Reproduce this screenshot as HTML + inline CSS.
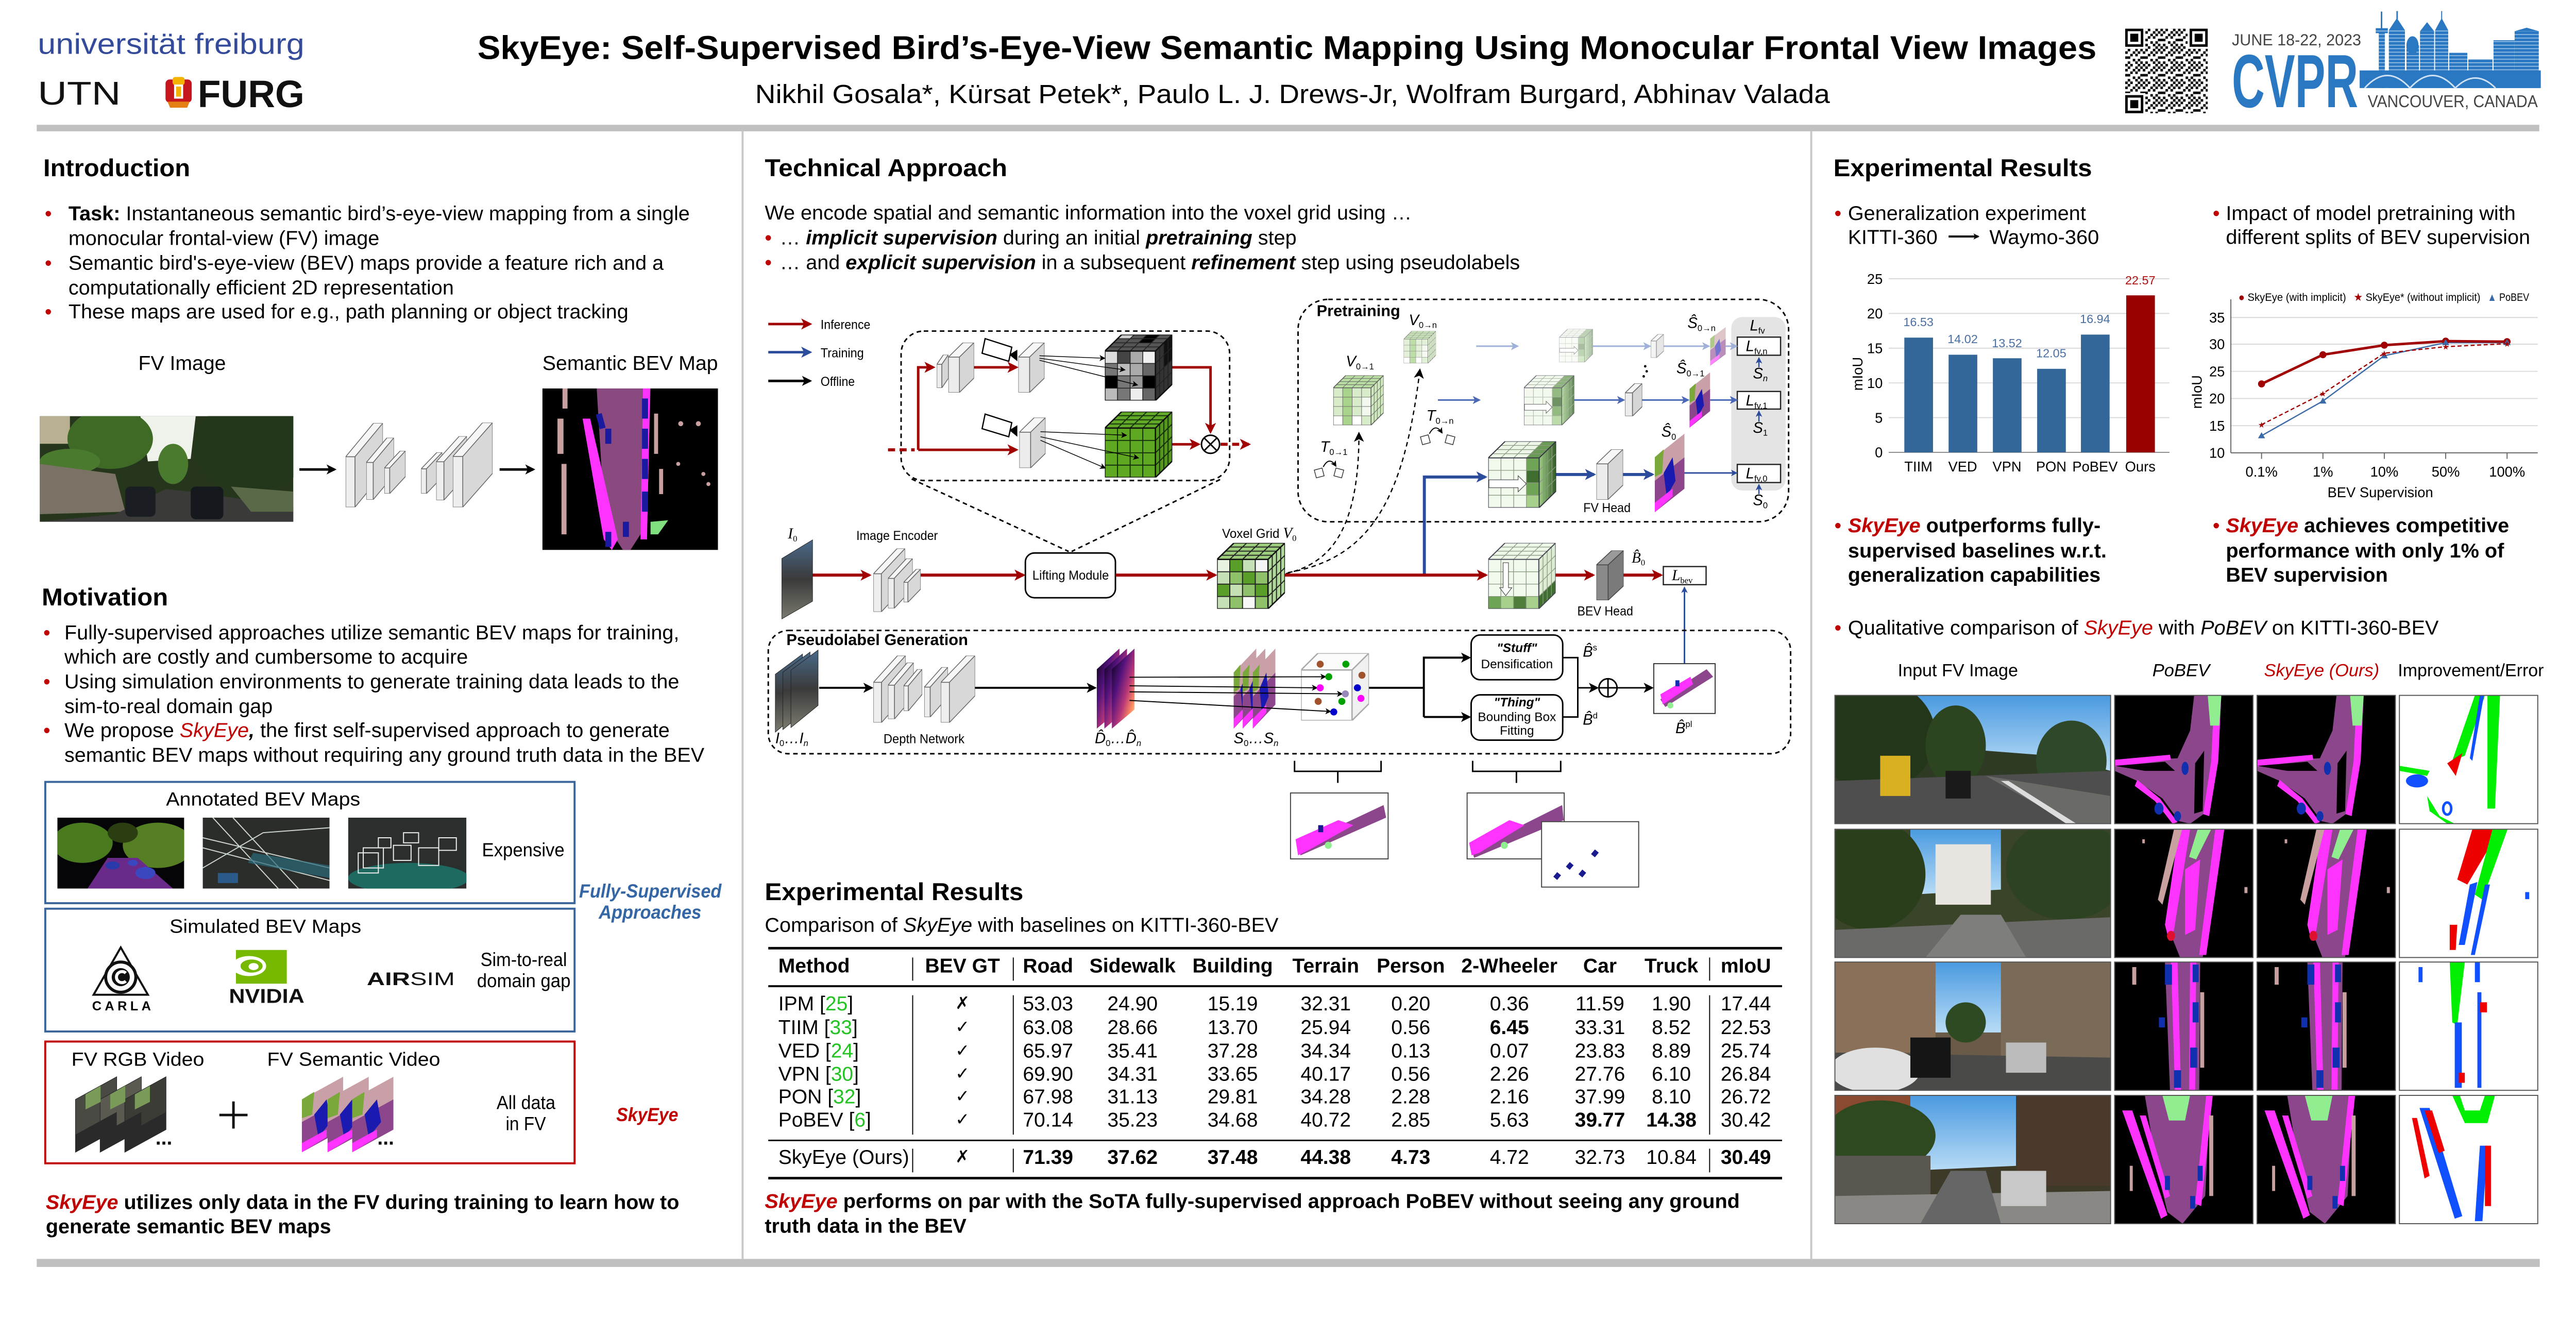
<!DOCTYPE html>
<html><head><meta charset="utf-8"><title>SkyEye poster</title>
<style>
html,body{margin:0;padding:0;background:#fff;overflow:hidden;}
svg.root{display:block;width:100vw;height:50vw;}
text{font-family:"Liberation Sans",Arial,sans-serif;}
.s{font-family:"Liberation Serif","Times New Roman",serif;}
.m{font-family:"Liberation Serif","Times New Roman",serif;font-style:italic;}
.ck{font-family:"DejaVu Sans",sans-serif;}
</style></head><body>
<svg class="root" width="5120" height="2560" viewBox="0 0 5120 2560" preserveAspectRatio="none" xmlns="http://www.w3.org/2000/svg" xmlns:xlink="http://www.w3.org/1999/xlink">
<defs>
<marker id="mR" viewBox="0 0 10 10" refX="8" refY="5" markerWidth="22" markerHeight="22" markerUnits="userSpaceOnUse" orient="auto"><path d="M0,0 L10,5 L0,10 L2.5,5 z" fill="#a00000"/></marker>
<marker id="mB" viewBox="0 0 10 10" refX="8" refY="5" markerWidth="22" markerHeight="22" markerUnits="userSpaceOnUse" orient="auto"><path d="M0,0 L10,5 L0,10 L2.5,5 z" fill="#2b4c9b"/></marker>
<marker id="mBm" viewBox="0 0 10 10" refX="8" refY="5" markerWidth="16" markerHeight="16" markerUnits="userSpaceOnUse" orient="auto"><path d="M0,0 L10,5 L0,10 L2.5,5 z" fill="#4a68b8"/></marker>
<marker id="mBl" viewBox="0 0 10 10" refX="8" refY="5" markerWidth="16" markerHeight="16" markerUnits="userSpaceOnUse" orient="auto"><path d="M0,0 L10,5 L0,10 L2.5,5 z" fill="#9fb1d8"/></marker>
<marker id="mK" viewBox="0 0 10 10" refX="8" refY="5" markerWidth="20" markerHeight="20" markerUnits="userSpaceOnUse" orient="auto"><path d="M0,0 L10,5 L0,10 L2.5,5 z" fill="#000"/></marker>
<marker id="mKs" viewBox="0 0 10 10" refX="8" refY="5" markerWidth="12" markerHeight="12" markerUnits="userSpaceOnUse" orient="auto"><path d="M0,0 L10,5 L0,10 L2.5,5 z" fill="#000"/></marker>
<marker id="mBs" viewBox="0 0 10 10" refX="8" refY="5" markerWidth="13" markerHeight="13" markerUnits="userSpaceOnUse" orient="auto"><path d="M0,0 L10,5 L0,10 L2.5,5 z" fill="#2b4c9b"/></marker>

<linearGradient id="magma" x1="0" y1="0" x2="1" y2="1"><stop offset="0" stop-color="#000004"/><stop offset="0.35" stop-color="#51127c"/><stop offset="0.6" stop-color="#b73779"/><stop offset="0.8" stop-color="#fc8961"/><stop offset="1" stop-color="#fcfdbf"/></linearGradient>
<linearGradient id="imgG" x1="0" y1="0" x2="0" y2="1"><stop offset="0" stop-color="#4a6a8a"/><stop offset="0.5" stop-color="#3a3a3a"/><stop offset="1" stop-color="#7a7a70"/></linearGradient>
<linearGradient id="skyG" x1="0" y1="0" x2="0" y2="1"><stop offset="0" stop-color="#4a9ae0"/><stop offset="1" stop-color="#b8dcf6"/></linearGradient>
<linearGradient id="sideG" x1="0" y1="0" x2="1" y2="0"><stop offset="0" stop-color="#9fcf86"/><stop offset="1" stop-color="#2f5a22"/></linearGradient>

<pattern id="qr" patternUnits="userSpaceOnUse" x="4224" y="57" width="35" height="35">
<g fill="#000"><rect x="0" y="0" width="5" height="5"/><rect x="10" y="0" width="5" height="5"/><rect x="25" y="0" width="5" height="5"/><rect x="5" y="5" width="5" height="5"/><rect x="20" y="5" width="5" height="5"/><rect x="30" y="5" width="5" height="5"/><rect x="0" y="10" width="5" height="5"/><rect x="15" y="10" width="5" height="5"/><rect x="25" y="10" width="5" height="5"/><rect x="10" y="15" width="5" height="5"/><rect x="20" y="15" width="5" height="5"/><rect x="0" y="20" width="5" height="5"/><rect x="5" y="20" width="5" height="5"/><rect x="30" y="20" width="5" height="5"/><rect x="15" y="25" width="5" height="5"/><rect x="25" y="25" width="5" height="5"/><rect x="5" y="30" width="5" height="5"/><rect x="20" y="30" width="5" height="5"/><rect x="30" y="30" width="5" height="5"/></g>
</pattern>
<pattern id="win" patternUnits="userSpaceOnUse" width="6" height="7"><rect width="6" height="7" fill="#2a78c2"/><rect y="5" width="6" height="1.3" fill="#bcd7f0"/></pattern>

<symbol id="slabT" viewBox="0 0 100 100" preserveAspectRatio="none">
<g stroke="#666" stroke-width="1.5">
<polygon points="0,40 75,0 100,0 25,40" fill="#f6f6f6" vector-effect="non-scaling-stroke"/>
<polygon points="25,40 100,0 100,60 25,100" fill="#d8d8d8" vector-effect="non-scaling-stroke"/>
<polygon points="0,40 25,40 25,100 0,100" fill="#eeeeee" vector-effect="non-scaling-stroke"/>
</g></symbol>
<symbol id="slabW" viewBox="0 0 100 100" preserveAspectRatio="none">
<g stroke="#666" stroke-width="1.5">
<polygon points="0,29 57,0 100,0 43,29" fill="#f6f6f6" vector-effect="non-scaling-stroke"/>
<polygon points="43,29 100,0 100,71 43,100" fill="#d6d6d6" vector-effect="non-scaling-stroke"/>
<polygon points="0,29 43,29 43,100 0,100" fill="#ececec" vector-effect="non-scaling-stroke"/>
</g></symbol>
<symbol id="slabD" viewBox="0 0 100 100" preserveAspectRatio="none">
<g stroke="#444" stroke-width="1.5">
<polygon points="0,29 57,0 100,0 43,29" fill="#9a9a9a" vector-effect="non-scaling-stroke"/>
<polygon points="43,29 100,0 100,71 43,100" fill="#7a7a7a" vector-effect="non-scaling-stroke"/>
<polygon points="0,29 43,29 43,100 0,100" fill="#8a8a8a" vector-effect="non-scaling-stroke"/>
</g></symbol>

<path id="cgrid" d="M18.75,25V100M37.5,25V100M56.25,25V100M0,43.75H75M0,62.5H75M0,81.25H75M18.75,25L43.75,0M37.5,25L62.5,0M56.25,25L81.25,0M6.25,18.75H81.25M12.5,12.5H87.5M18.75,6.25H93.75M81.25,18.75V93.75M87.5,12.5V87.5M93.75,6.25V81.25M75,43.75L100,18.75M75,62.5L100,37.5M75,81.25L100,56.25"/>
<path id="cout" d="M0,25H75V100H0ZM0,25L25,0H100L75,25M100,0V75L75,100"/>

<symbol id="cubeG" viewBox="0 0 100 100" preserveAspectRatio="none">
<polygon points="0,25 25,0 100,0 75,25" fill="#9ccc7c"/>
<polygon points="75,25 100,0 100,75 75,100" fill="#b0d898"/>
<rect x="0" y="25" width="18.75" height="18.75" fill="#e8f2e0"/><rect x="18.75" y="25" width="18.75" height="18.75" fill="#5a9e2a"/><rect x="37.5" y="25" width="18.75" height="18.75" fill="#c5e0b4"/><rect x="56.25" y="25" width="18.75" height="18.75" fill="#f4f4f4"/>
<rect x="0" y="43.75" width="18.75" height="18.75" fill="#c5e0b4"/><rect x="18.75" y="43.75" width="18.75" height="18.75" fill="#8fc16a"/><rect x="37.5" y="43.75" width="18.75" height="18.75" fill="#5a9e2a"/><rect x="56.25" y="43.75" width="18.75" height="18.75" fill="#8fc16a"/>
<rect x="0" y="62.5" width="18.75" height="18.75" fill="#5a9e2a"/><rect x="18.75" y="62.5" width="18.75" height="18.75" fill="#c5e0b4"/><rect x="37.5" y="62.5" width="18.75" height="18.75" fill="#8fc16a"/><rect x="56.25" y="62.5" width="18.75" height="18.75" fill="#5a9e2a"/>
<rect x="0" y="81.25" width="18.75" height="18.75" fill="#c5e0b4"/><rect x="18.75" y="81.25" width="18.75" height="18.75" fill="#8fc16a"/><rect x="37.5" y="81.25" width="18.75" height="18.75" fill="#f8f8f8"/><rect x="56.25" y="81.25" width="18.75" height="18.75" fill="#8fc16a"/>
<use href="#cgrid" fill="none" stroke="#222" stroke-width="1.5" vector-effect="non-scaling-stroke"/>
<use href="#cout" fill="none" stroke="#111" stroke-width="2" vector-effect="non-scaling-stroke"/>
</symbol>
<symbol id="cubeGL" viewBox="0 0 100 100" preserveAspectRatio="none">
<polygon points="0,25 25,0 100,0 75,25" fill="#b9dca2"/>
<polygon points="75,25 100,0 100,75 75,100" fill="#cfe6bf"/>
<rect x="0" y="25" width="75" height="75" fill="#d8ecca"/>
<rect x="18.75" y="25" width="18.75" height="75" fill="#a8d38a"/><rect x="37.5" y="81.25" width="18.75" height="18.75" fill="#fff"/><rect x="56.25" y="43.75" width="18.75" height="37.5" fill="#f2f8ee"/><rect x="0" y="81.25" width="18.75" height="18.75" fill="#fff"/>
<use href="#cgrid" fill="none" stroke="#666" stroke-width="1" vector-effect="non-scaling-stroke"/>
<use href="#cout" fill="none" stroke="#555" stroke-width="1.5" vector-effect="non-scaling-stroke"/>
</symbol>
<symbol id="cubeS" viewBox="0 0 100 100" preserveAspectRatio="none">
<polygon points="0,25 25,0 100,0 75,25" fill="#62a828"/>
<polygon points="75,25 100,0 100,75 75,100" fill="#55961f"/>
<rect x="0" y="25" width="75" height="75" fill="#5fa822"/>
<use href="#cgrid" fill="none" stroke="#143008" stroke-width="1.5" vector-effect="non-scaling-stroke"/>
<use href="#cout" fill="none" stroke="#111" stroke-width="2" vector-effect="non-scaling-stroke"/>
</symbol>
<symbol id="cubeK" viewBox="0 0 100 100" preserveAspectRatio="none">
<polygon points="0,25 25,0 100,0 75,25" fill="#555"/>
<polygon points="25,0 43.75,0 37.5,6.25 18.75,6.25" fill="#ccc"/><polygon points="62.5,0 81.25,0 68.75,12.5 50,12.5" fill="#000"/>
<polygon points="75,25 100,0 100,75 75,100" fill="#333"/>
<polygon points="87.5,12.5 100,0 100,37.5 87.5,50" fill="#111"/>
<rect x="0" y="25" width="18.75" height="18.75" fill="#ddd"/><rect x="18.75" y="25" width="18.75" height="18.75" fill="#444"/><rect x="37.5" y="25" width="18.75" height="18.75" fill="#aaa"/><rect x="56.25" y="25" width="18.75" height="18.75" fill="#f0f0f0"/>
<rect x="0" y="43.75" width="18.75" height="18.75" fill="#777"/><rect x="18.75" y="43.75" width="18.75" height="18.75" fill="#bbb"/><rect x="37.5" y="43.75" width="18.75" height="18.75" fill="#aaa"/><rect x="56.25" y="43.75" width="18.75" height="18.75" fill="#666"/>
<rect x="0" y="62.5" width="18.75" height="18.75" fill="#000"/><rect x="18.75" y="62.5" width="18.75" height="18.75" fill="#777"/><rect x="37.5" y="62.5" width="18.75" height="18.75" fill="#999"/><rect x="56.25" y="62.5" width="18.75" height="18.75" fill="#000"/>
<rect x="0" y="81.25" width="18.75" height="18.75" fill="#bbb"/><rect x="18.75" y="81.25" width="18.75" height="18.75" fill="#777"/><rect x="37.5" y="81.25" width="18.75" height="18.75" fill="#eee"/><rect x="56.25" y="81.25" width="18.75" height="18.75" fill="#666"/>
<use href="#cgrid" fill="none" stroke="#222" stroke-width="1.2" vector-effect="non-scaling-stroke"/>
<use href="#cout" fill="none" stroke="#111" stroke-width="2" vector-effect="non-scaling-stroke"/>
</symbol>
<symbol id="cubeR" viewBox="0 0 100 100" preserveAspectRatio="none">
<polygon points="0,25 25,0 100,0 75,25" fill="#eef6e8"/>
<polygon points="56.25,25 81.25,0 100,0 75,25" fill="#6a9a55"/>
<polygon points="75,25 100,0 100,75 75,100" fill="url(#sideG)"/>
<rect x="0" y="25" width="75" height="75" fill="#f1f8ec"/>
<rect x="56.25" y="25" width="18.75" height="75" fill="#6fa356"/>
<rect x="56.25" y="43.75" width="18.75" height="18.75" fill="#3f6e30"/><rect x="56.25" y="81.25" width="18.75" height="18.75" fill="#a8d08d"/>
<use href="#cgrid" fill="none" stroke="#8a9a80" stroke-width="1" vector-effect="non-scaling-stroke"/>
<use href="#cout" fill="none" stroke="#334" stroke-width="1.5" vector-effect="non-scaling-stroke"/>
<polygon points="1,58 44,58 44,52 56,64 44,76 44,70 1,70" fill="#fff" stroke="#333" stroke-width="1" vector-effect="non-scaling-stroke"/>
</symbol>
<symbol id="cubeB" viewBox="0 0 100 100" preserveAspectRatio="none">
<polygon points="0,25 25,0 100,0 75,25" fill="#eef6e8"/>
<polygon points="75,25 100,0 100,75 75,100" fill="#dcebd2"/>
<polygon points="75,81.25 100,56.25 100,75 75,100" fill="#3f6e30"/>
<rect x="0" y="25" width="75" height="75" fill="#f1f8ec"/>
<rect x="0" y="81.25" width="75" height="18.75" fill="#a8d08d"/><rect x="37.5" y="81.25" width="18.75" height="18.75" fill="#4f7e3a"/><rect x="0" y="81.25" width="18.75" height="18.75" fill="#6fa356"/>
<use href="#cgrid" fill="none" stroke="#8a9a80" stroke-width="1" vector-effect="non-scaling-stroke"/>
<use href="#cout" fill="none" stroke="#445" stroke-width="1.5" vector-effect="non-scaling-stroke"/>
<polygon points="22,30 30,30 30,68 35,68 26,80 17,68 22,68" fill="#fff" stroke="#333" stroke-width="1" vector-effect="non-scaling-stroke"/>
</symbol>
<symbol id="cubeW" viewBox="0 0 100 100" preserveAspectRatio="none">
<polygon points="0,25 25,0 100,0 75,25" fill="#fafafa"/>
<polygon points="75,25 100,0 100,75 75,100" fill="#f0f0f0"/>
<rect x="0" y="25" width="75" height="75" fill="#fff"/>
<use href="#cout" fill="none" stroke="#aaa" stroke-width="2" vector-effect="non-scaling-stroke"/>
</symbol>

<symbol id="photoA" viewBox="0 0 548 255" preserveAspectRatio="none">
<rect width="548" height="255" fill="#2e3a24"/>
<polygon points="130,0 548,0 548,150 430,120 300,110 200,60" fill="url(#skyG)"/>
<ellipse cx="80" cy="80" rx="120" ry="110" fill="#24361a"/>
<ellipse cx="240" cy="100" rx="60" ry="80" fill="#2c4420"/>
<ellipse cx="470" cy="130" rx="70" ry="80" fill="#30482a"/>
<polygon points="0,170 548,150 548,255 0,255" fill="#4e4e4e"/>
<polygon points="300,160 548,200 548,255 470,255" fill="#6a6a66"/>
<rect x="90" y="120" width="60" height="80" fill="#d8b020"/>
<rect x="220" y="150" width="50" height="55" fill="#1a1a1a"/>
<polygon points="330,170 345,170 480,255 460,255" fill="#ddd"/>
</symbol>
<symbol id="photoB" viewBox="0 0 548 255" preserveAspectRatio="none">
<rect width="548" height="255" fill="#3a4428"/>
<polygon points="150,0 330,0 330,120 150,130" fill="url(#skyG)"/>
<rect x="200" y="30" width="110" height="120" fill="#e8e4e0"/>
<ellipse cx="70" cy="90" rx="110" ry="110" fill="#2a3e1c"/>
<ellipse cx="460" cy="80" rx="120" ry="100" fill="#2c4220"/>
<polygon points="0,200 548,175 548,255 0,255" fill="#6a6a68"/>
<polygon points="250,170 330,170 380,255 180,255" fill="#7e7e7c"/>
</symbol>
<symbol id="photoC" viewBox="0 0 548 255" preserveAspectRatio="none">
<rect width="548" height="255" fill="#6a5a48"/>
<rect x="0" y="0" width="200" height="180" fill="#8a7058"/>
<rect x="330" y="0" width="218" height="190" fill="#7a6a58"/>
<polygon points="200,0 330,0 330,140 200,140" fill="url(#skyG)"/>
<ellipse cx="260" cy="120" rx="40" ry="40" fill="#2e4a22"/>
<polygon points="0,180 548,190 548,255 0,255" fill="#4a4a48"/>
<ellipse cx="80" cy="215" rx="90" ry="45" fill="#e0e0e0"/>
<rect x="150" y="150" width="80" height="80" fill="#151515"/>
<rect x="340" y="160" width="80" height="60" fill="#bcbcbc"/>
</symbol>
<symbol id="photoD" viewBox="0 0 548 255" preserveAspectRatio="none">
<rect width="548" height="255" fill="#3e3a2a"/>
<polygon points="140,0 360,0 360,140 140,150" fill="url(#skyG)"/>
<rect x="0" y="0" width="150" height="120" fill="#8a4a30"/>
<ellipse cx="90" cy="80" rx="110" ry="70" fill="#2e4820"/>
<rect x="360" y="0" width="188" height="180" fill="#4a3a2c"/>
<rect x="0" y="120" width="190" height="80" fill="#5a5650"/>
<polygon points="0,200 548,190 548,255 0,255" fill="#8a8884"/>
<polygon points="230,150 300,150 330,255 170,255" fill="#666"/>
<rect x="330" y="150" width="90" height="70" fill="#c8c8c8"/>
</symbol>

<symbol id="bev1" viewBox="0 0 275 255" preserveAspectRatio="none">
<rect width="275" height="255" fill="#000"/>
<polygon points="158,0 210,0 205,120 185,230 150,255 128,250 95,205 45,170 0,150 0,135 70,128 125,125 150,70" fill="#8c468c"/>
<polygon points="198,0 212,0 206,130 188,240 176,236 192,130" fill="#ff33ff"/>
<polygon points="0,128 110,118 112,128 0,142" fill="#ff33ff"/>
<polygon points="45,168 90,205 125,252 115,255 80,210 40,180" fill="#ff33ff"/>
<polygon points="185,0 212,0 208,60 190,60" fill="#90ee90"/>
<polygon points="160,135 178,110 175,230 158,235" fill="#000"/>
<polygon points="0,140 100,132 120,150 60,150" fill="#000"/>
<ellipse cx="140" cy="145" rx="7" ry="13" fill="#1030b0"/><ellipse cx="88" cy="225" rx="9" ry="12" fill="#1030b0"/><ellipse cx="125" cy="240" rx="7" ry="10" fill="#1030b0"/>
</symbol>
<symbol id="bev2" viewBox="0 0 275 255" preserveAspectRatio="none">
<rect width="275" height="255" fill="#000"/>
<polygon points="145,0 215,0 175,255 130,255 108,200" fill="#8c468c"/>
<polygon points="128,0 150,0 118,200 108,222 100,190" fill="#ff33ff"/>
<polygon points="200,0 218,0 182,250 168,250" fill="#ff33ff"/>
<polygon points="140,80 170,60 160,200 140,210" fill="#ff33ff"/>
<polygon points="118,0 134,0 95,150 86,140" fill="#c8a0a0"/>
<polygon points="165,0 192,0 162,60 148,55" fill="#90ee90"/>
<ellipse cx="112" cy="212" rx="8" ry="10" fill="#e01030"/>
<rect x="258" y="115" width="6" height="12" fill="#c8a0a0"/><rect x="55" y="20" width="5" height="8" fill="#c8a0a0"/>
</symbol>
<symbol id="bev3" viewBox="0 0 275 255" preserveAspectRatio="none">
<rect width="275" height="255" fill="#000"/>
<polygon points="100,0 170,0 168,255 110,255" fill="#8c468c"/>
<polygon points="112,0 125,0 132,255 120,255" fill="#ff33ff"/>
<polygon points="150,0 162,0 160,255 148,255" fill="#ff33ff"/>
<rect x="100" y="5" width="14" height="40" fill="#1030b0"/><rect x="155" y="5" width="12" height="35" fill="#1030b0"/><rect x="155" y="80" width="12" height="40" fill="#1030b0"/><rect x="150" y="170" width="14" height="40" fill="#1030b0"/><rect x="118" y="215" width="14" height="35" fill="#1030b0"/><rect x="88" y="110" width="12" height="20" fill="#1030b0"/>
<rect x="170" y="60" width="8" height="150" fill="#c8a0a0"/><rect x="35" y="10" width="8" height="35" fill="#c8a0a0"/>
</symbol>
<symbol id="bev4" viewBox="0 0 275 255" preserveAspectRatio="none">
<rect width="275" height="255" fill="#000"/>
<polygon points="60,0 190,0 180,200 135,255 105,232 85,150" fill="#8c468c"/>
<polygon points="95,0 150,0 140,50 108,50" fill="#90ee90"/>
<polygon points="15,30 35,30 105,238 92,245" fill="#ff33ff"/>
<polygon points="50,40 62,40 110,200 100,205" fill="#ff33ff"/>
<polygon points="182,0 195,0 172,220 160,215" fill="#ff33ff"/>
<rect x="165" y="140" width="10" height="30" fill="#1030b0"/><rect x="100" y="160" width="10" height="28" fill="#1030b0"/><rect x="150" y="200" width="10" height="25" fill="#1030b0"/>
<rect x="188" y="40" width="8" height="160" fill="#c8a0a0"/><rect x="30" y="140" width="6" height="50" fill="#c8a0a0"/>
</symbol>
<symbol id="imp1" viewBox="0 0 275 255" preserveAspectRatio="none">
<rect width="275" height="255" fill="#fff"/>
<polygon points="150,0 170,0 130,120 105,130" fill="#00ee00"/>
<polygon points="95,135 125,115 112,160" fill="#ee0000"/>
<polygon points="175,0 200,0 190,225 175,225" fill="#00ee00"/>
<polygon points="160,0 168,0 145,130 140,125" fill="#1050ff"/>
<ellipse cx="35" cy="170" rx="22" ry="13" fill="#1050ff"/>
<polygon points="0,140 60,150 55,160 0,150" fill="#00ee00"/>
<polygon points="55,200 80,240 110,255 95,255 60,230" fill="#00ee00"/>
<ellipse cx="95" cy="225" rx="8" ry="12" fill="none" stroke="#1050ff" stroke-width="5"/>
</symbol>
<symbol id="imp2" viewBox="0 0 275 255" preserveAspectRatio="none">
<rect width="275" height="255" fill="#fff"/>
<polygon points="145,0 200,0 135,110 115,100" fill="#ee0000"/>
<polygon points="185,0 215,0 165,140 150,130" fill="#00ee00"/>
<polygon points="140,110 155,105 130,230 118,230" fill="#1050ff"/>
<polygon points="170,110 180,110 150,250 142,250" fill="#1050ff"/>
<polygon points="100,190 115,190 112,240 100,240" fill="#ee0000"/>
<rect x="250" y="125" width="8" height="14" fill="#1050ff"/>
</symbol>
<symbol id="imp3" viewBox="0 0 275 255" preserveAspectRatio="none">
<rect width="275" height="255" fill="#fff"/>
<polygon points="100,0 130,0 115,125 105,120" fill="#00ee00"/>
<rect x="150" y="0" width="10" height="40" fill="#1050ff"/>
<rect x="155" y="60" width="8" height="190" fill="#1050ff"/>
<rect x="110" y="120" width="14" height="130" fill="#1050ff"/>
<rect x="160" y="80" width="14" height="20" fill="#ee0000"/><rect x="118" y="220" width="12" height="20" fill="#ee0000"/>
<rect x="38" y="10" width="8" height="30" fill="#1050ff"/>
</symbol>
<symbol id="imp4" viewBox="0 0 275 255" preserveAspectRatio="none">
<rect width="275" height="255" fill="#fff"/>
<polygon points="105,0 190,0 175,55 130,55" fill="#00ee00"/>
<polygon points="120,0 170,0 160,30 130,30" fill="#fff"/>
<polygon points="40,25 60,25 125,240 110,245" fill="#1050ff"/>
<polygon points="50,30 65,30 90,110 78,115" fill="#ee0000"/>
<polygon points="25,45 35,45 60,160 50,165" fill="#ee0000"/>
<polygon points="160,100 175,100 165,250 150,250" fill="#1050ff"/>
<rect x="170" y="100" width="12" height="120" fill="#ee0000"/>
</symbol>
<symbol id="semP" viewBox="0 0 100 100" preserveAspectRatio="none">
<polygon points="0,30 100,0 100,70 0,100" fill="#c9a0a8"/>
<polygon points="0,60 100,30 100,70 0,100" fill="#8c468c"/>
<polygon points="30,50 60,30 70,60 40,80" fill="#1a1ab0"/>
<polygon points="0,30 30,20 25,50 0,55" fill="#7aa83a"/>
<polygon points="0,88 60,70 60,80 0,100" fill="#ff33ff"/>
</symbol>
</defs>

<!-- HEADER -->
<text x="75" y="107" font-size="58" fill="#344a9a" textLength="530" lengthAdjust="spacingAndGlyphs">universität freiburg</text>
<text x="75" y="208" font-size="66" fill="#111" textLength="165" lengthAdjust="spacingAndGlyphs">UTN</text>
<g>
<rect x="329" y="158" width="52" height="46" rx="8" fill="#c4161c"/>
<rect x="343" y="153" width="24" height="16" rx="5" fill="#f5b301"/>
<path d="M333,202 L377,202 L372,214 L338,214 Z" fill="#e47f12"/>
<rect x="346" y="168" width="18" height="28" fill="#fff"/>
<rect x="350" y="172" width="10" height="20" fill="#f5b301"/>
</g>
<text x="393" y="213" font-size="76" font-weight="bold" fill="#111" textLength="212" lengthAdjust="spacingAndGlyphs">FURG</text>

<text x="949" y="117" font-size="66" font-weight="bold" fill="#000" textLength="3218" lengthAdjust="spacingAndGlyphs">SkyEye: Self-Supervised Bird’s-Eye-View Semantic Mapping Using Monocular Frontal View Images</text>
<text x="1501" y="205" font-size="52" fill="#000" textLength="2136" lengthAdjust="spacingAndGlyphs">Nikhil Gosala*, Kürsat Petek*, Paulo L. J. Drews-Jr, Wolfram Burgard, Abhinav Valada</text>

<rect x="4224" y="57" width="164" height="168" fill="url(#qr)"/>
<g>
<rect x="4220" y="53" width="44" height="44" fill="#fff"/><rect x="4224" y="57" width="36" height="36" fill="#000"/><rect x="4229" y="62" width="26" height="26" fill="#fff"/><rect x="4234" y="67" width="16" height="16" fill="#000"/>
<rect x="4348" y="53" width="44" height="44" fill="#fff"/><rect x="4352" y="57" width="36" height="36" fill="#000"/><rect x="4357" y="62" width="26" height="26" fill="#fff"/><rect x="4362" y="67" width="16" height="16" fill="#000"/>
<rect x="4220" y="185" width="44" height="44" fill="#fff"/><rect x="4224" y="189" width="36" height="36" fill="#000"/><rect x="4229" y="194" width="26" height="26" fill="#fff"/><rect x="4234" y="199" width="16" height="16" fill="#000"/>
</g>
<text x="4436" y="90" font-size="32" fill="#444" textLength="257" lengthAdjust="spacingAndGlyphs">JUNE 18-22, 2023</text>
<text x="4436" y="213" font-size="150" font-weight="bold" fill="#2a78c2" textLength="251" lengthAdjust="spacingAndGlyphs">CVPR</text>
<g fill="url(#win)">
<rect x="4728" y="60" width="12" height="115"/><rect x="4722" y="56" width="24" height="10"/><rect x="4732" y="23" width="3" height="35" fill="#2a78c2"/>
<rect x="4748" y="60" width="32" height="115"/><polygon points="4748,60 4764,36 4780,60" fill="#2a78c2"/><rect x="4763" y="22" width="3" height="16" fill="#2a78c2"/>
<rect x="4783" y="90" width="25" height="85"/><ellipse cx="4795" cy="90" rx="12" ry="18" fill="#2a78c2"/>
<rect x="4810" y="62" width="28" height="113"/><polygon points="4810,62 4824,44 4838,62" fill="#2a78c2"/>
<rect x="4840" y="60" width="26" height="115"/><polygon points="4840,60 4853,36 4866,60" fill="#2a78c2"/><rect x="4852" y="22" width="2" height="16" fill="#2a78c2"/>
<rect x="4868" y="105" width="36" height="70"/>
<rect x="4906" y="118" width="48" height="57"/>
<rect x="4956" y="80" width="42" height="95"/>
<rect x="4998" y="62" width="48" height="113"/><polygon points="4998,62 5022,55 5046,62" fill="#2a78c2"/>
<rect x="4690" y="140" width="360" height="35" fill="#2a78c2"/>
</g>
<path d="M4700,175 Q4745,125 4790,175 M4790,175 Q4835,125 4880,175 M4880,175 Q4920,135 4960,175" fill="none" stroke="#cfe2f6" stroke-width="3"/>
<text x="4706" y="213" font-size="34" fill="#444" textLength="338" lengthAdjust="spacingAndGlyphs">VANCOUVER, CANADA</text>

<rect x="73" y="248" width="4974" height="13" fill="#c0c0c0"/>
<rect x="1474" y="261" width="4" height="2241" fill="#c8c8c8"/>
<rect x="3598" y="261" width="4" height="2241" fill="#c8c8c8"/>
<rect x="73" y="2502" width="4975" height="16" fill="#c0c0c0"/>

<!-- LEFT COLUMN -->
<text x="86" y="350" font-size="48" font-weight="bold" textLength="292" lengthAdjust="spacingAndGlyphs">Introduction</text>
<g font-size="40" fill="#000">
<text x="89" y="438" fill="#c00000">•</text><text x="89" y="536" fill="#c00000">•</text><text x="89" y="633" fill="#c00000">•</text>
<text x="136" y="438" textLength="1235" lengthAdjust="spacingAndGlyphs"><tspan font-weight="bold">Task:</tspan> Instantaneous semantic bird’s-eye-view mapping from a single</text>
<text x="136" y="487" textLength="618" lengthAdjust="spacingAndGlyphs">monocular frontal-view (FV) image</text>
<text x="136" y="536" textLength="1183" lengthAdjust="spacingAndGlyphs">Semantic bird's-eye-view (BEV) maps provide a feature rich and a</text>
<text x="136" y="585" textLength="766" lengthAdjust="spacingAndGlyphs">computationally efficient 2D representation</text>
<text x="136" y="633" textLength="1113" lengthAdjust="spacingAndGlyphs">These maps are used for e.g., path planning or object tracking</text>
<text x="275" y="735" textLength="174" lengthAdjust="spacingAndGlyphs">FV Image</text>
<text x="1078" y="735" textLength="349" lengthAdjust="spacingAndGlyphs">Semantic BEV Map</text>
</g>
<svg x="79" y="827" width="504" height="210" viewBox="0 0 504 210" preserveAspectRatio="none">
<rect width="504" height="210" fill="#26361c"/>
<rect x="0" y="0" width="60" height="55" fill="#b8b090"/>
<polygon points="200,0 310,0 300,85 215,90" fill="#eef2ea"/>
<ellipse cx="140" cy="45" rx="85" ry="60" fill="#3e6a26"/>
<ellipse cx="420" cy="60" rx="115" ry="90" fill="#22361a"/>
<ellipse cx="265" cy="95" rx="30" ry="40" fill="#4a7a2e"/>
<ellipse cx="60" cy="90" rx="60" ry="25" fill="#4a7a2e"/>
<polygon points="0,95 150,115 170,190 0,195" fill="#7a7264"/>
<polygon points="0,210 504,210 504,180 300,150 250,145 150,195" fill="#3a3a38"/>
<polygon points="380,140 504,150 504,190 420,190" fill="#5a6a48"/>
<rect x="170" y="140" width="60" height="60" rx="10" fill="#1a1e22"/>
<rect x="300" y="140" width="65" height="65" rx="10" fill="#15181c"/>
</svg>
<line x1="595" y1="933" x2="665" y2="933" stroke="#000" stroke-width="5" marker-end="url(#mK)"/>
<use href="#slabT" x="687" y="841" width="74" height="167"/>
<use href="#slabT" x="728" y="870" width="55" height="123"/>
<use href="#slabT" x="764" y="896" width="42" height="85"/>
<use href="#slabT" x="837" y="899" width="42" height="82"/>
<use href="#slabT" x="867" y="867" width="61" height="127"/>
<use href="#slabT" x="900" y="840" width="79" height="168"/>
<line x1="993" y1="933" x2="1060" y2="933" stroke="#000" stroke-width="5" marker-end="url(#mK)"/>
<svg x="1078" y="772" width="349" height="321" viewBox="0 0 349 321" preserveAspectRatio="none">
<rect width="349" height="321" fill="#000"/>
<polygon points="108,0 215,0 210,200 195,290 175,321 160,321 140,290 120,200" fill="#8a4a80"/>
<polygon points="80,60 95,60 150,300 138,321 122,300" fill="#ff33ff"/>
<polygon points="200,0 214,0 208,300 195,300" fill="#ff33ff"/>
<rect x="110" y="50" width="12" height="30" fill="#1a1aa0" transform="rotate(-15 116 65)"/><rect x="125" y="80" width="12" height="30" fill="#1a1aa0"/>
<rect x="198" y="20" width="12" height="40" fill="#1a1aa0"/><rect x="198" y="80" width="12" height="40" fill="#1a1aa0"/><rect x="198" y="140" width="12" height="40" fill="#1a1aa0"/><rect x="198" y="205" width="12" height="40" fill="#1a1aa0"/>
<rect x="160" y="265" width="12" height="30" fill="#1a1aa0"/><rect x="125" y="285" width="12" height="30" fill="#1a1aa0"/>
<polygon points="215,265 250,262 230,290 215,290" fill="#80e080"/>
<rect x="40" y="0" width="10" height="40" fill="#c8a0a0"/><rect x="30" y="60" width="12" height="70" fill="#c8a0a0"/><rect x="38" y="150" width="10" height="140" fill="#c8a0a0"/>
<rect x="222" y="50" width="8" height="80" fill="#c8a0a0"/><rect x="232" y="160" width="8" height="50" fill="#c8a0a0"/><circle cx="275" cy="70" r="5" fill="#c8a0a0"/><circle cx="310" cy="70" r="5" fill="#c8a0a0"/><circle cx="320" cy="170" r="4" fill="#c8a0a0"/><circle cx="270" cy="150" r="4" fill="#c8a0a0"/><circle cx="330" cy="190" r="4" fill="#c8a0a0"/>
</svg>

<text x="83" y="1203" font-size="48" font-weight="bold" textLength="251" lengthAdjust="spacingAndGlyphs">Motivation</text>
<g font-size="40" fill="#000">
<text x="86" y="1271" fill="#c00000">•</text><text x="86" y="1368" fill="#c00000">•</text><text x="86" y="1465" fill="#c00000">•</text>
<text x="128" y="1271" textLength="1222" lengthAdjust="spacingAndGlyphs">Fully-supervised approaches utilize semantic BEV maps for training,</text>
<text x="128" y="1319" textLength="802" lengthAdjust="spacingAndGlyphs">which are costly and cumbersome to acquire</text>
<text x="128" y="1368" textLength="1222" lengthAdjust="spacingAndGlyphs">Using simulation environments to generate training data leads to the</text>
<text x="128" y="1417" textLength="414" lengthAdjust="spacingAndGlyphs">sim-to-real domain gap</text>
<text x="128" y="1465" textLength="1203" lengthAdjust="spacingAndGlyphs">We propose <tspan fill="#c00000" font-style="italic">SkyEye</tspan><tspan font-weight="bold" font-style="italic">,</tspan> the first self-supervised approach to generate</text>
<text x="128" y="1514" textLength="1272" lengthAdjust="spacingAndGlyphs">semantic BEV maps without requiring any ground truth data in the BEV</text>
</g>
<rect x="90" y="1554" width="1052" height="241" fill="none" stroke="#3a659a" stroke-width="4"/>
<rect x="90" y="1806" width="1052" height="244" fill="none" stroke="#3a659a" stroke-width="4"/>
<rect x="90" y="2070" width="1052" height="242" fill="none" stroke="#c00000" stroke-width="4"/>
<g font-size="38" fill="#000">
<text x="330" y="1601" textLength="386" lengthAdjust="spacingAndGlyphs">Annotated BEV Maps</text>
<text x="958" y="1702" textLength="164" lengthAdjust="spacingAndGlyphs">Expensive</text>
<text x="337" y="1854" textLength="381" lengthAdjust="spacingAndGlyphs">Simulated BEV Maps</text>
<text x="955" y="1920" textLength="172" lengthAdjust="spacingAndGlyphs">Sim-to-real</text>
<text x="948" y="1962" textLength="186" lengthAdjust="spacingAndGlyphs">domain gap</text>
<text x="142" y="2118" textLength="264" lengthAdjust="spacingAndGlyphs">FV RGB Video</text>
<text x="531" y="2118" textLength="344" lengthAdjust="spacingAndGlyphs">FV Semantic Video</text>
<text x="987" y="2204" textLength="117" lengthAdjust="spacingAndGlyphs">All data</text>
<text x="1005" y="2246" textLength="80" lengthAdjust="spacingAndGlyphs">in FV</text>
</g>
<g font-size="38" font-weight="bold" font-style="italic" fill="#3465a4">
<text x="1151" y="1784" textLength="283" lengthAdjust="spacingAndGlyphs">Fully-Supervised</text>
<text x="1190" y="1826" textLength="204" lengthAdjust="spacingAndGlyphs">Approaches</text>
</g>
<text x="1225" y="2228" font-size="38" font-weight="bold" font-style="italic" fill="#c00000" textLength="123" lengthAdjust="spacingAndGlyphs">SkyEye</text>
<svg x="114" y="1625" width="252" height="141" viewBox="0 0 252 141" preserveAspectRatio="none">
<rect width="252" height="141" fill="#050508"/>
<ellipse cx="50" cy="50" rx="60" ry="40" fill="#4a7a1e"/><ellipse cx="200" cy="55" rx="70" ry="45" fill="#557f22"/><ellipse cx="130" cy="30" rx="30" ry="20" fill="#2a3e12"/>
<polygon points="60,141 100,80 160,80 230,141" fill="#6a2a8a"/>
<ellipse cx="110" cy="95" rx="14" ry="8" fill="#2a3aaa"/><ellipse cx="175" cy="110" rx="20" ry="12" fill="#3a48c0"/><ellipse cx="150" cy="90" rx="10" ry="6" fill="#3a48c0"/>
</svg>
<svg x="403" y="1625" width="252" height="141" viewBox="0 0 252 141" preserveAspectRatio="none">
<rect width="252" height="141" fill="#2a2d2a"/>
<path d="M0,40 L252,100 M0,60 L252,125 M20,0 L150,141 M60,0 L190,141 M0,100 L120,30 L252,20" stroke="#cfd8cf" stroke-width="2" fill="none"/>
<polygon points="100,70 252,95 252,120 90,90" fill="#2a6a7a" opacity="0.7"/>
<rect x="30" y="110" width="40" height="20" fill="#2a5a8a"/>
</svg>
<svg x="692" y="1625" width="235" height="141" viewBox="0 0 235 141" preserveAspectRatio="none">
<rect width="235" height="141" fill="#2a2f2e"/>
<ellipse cx="120" cy="120" rx="120" ry="30" fill="#1e6a60"/>
<g fill="none" stroke="#f0f0f0" stroke-width="2"><rect x="20" y="70" width="40" height="40"/><rect x="30" y="60" width="40" height="40"/><rect x="90" y="55" width="35" height="30"/><rect x="140" y="60" width="40" height="35"/><rect x="180" y="40" width="35" height="25"/><rect x="60" y="40" width="25" height="20"/><rect x="110" y="30" width="30" height="20"/></g>
</svg>
<g>
<polygon points="240,1883 186,1977 294,1977" fill="none" stroke="#111" stroke-width="4"/>
<circle cx="240" cy="1942" r="30" fill="#fff" stroke="#111" stroke-width="6"/>
<circle cx="240" cy="1942" r="18" fill="#111"/>
<path d="M250,1934 A11,11 0 1 0 250,1950" fill="none" stroke="#fff" stroke-width="6"/>
<text x="183" y="2008" font-size="26" font-weight="bold" textLength="117" lengthAdjust="spacing">CARLA</text>
</g>
<g>
<rect x="469" y="1888" width="101" height="67" fill="#76b900"/>
<ellipse cx="495" cy="1920" rx="34" ry="20" fill="#fff"/>
<ellipse cx="500" cy="1920" rx="22" ry="13" fill="#76b900"/>
<ellipse cx="504" cy="1921" rx="10" ry="7" fill="#fff"/>
<text x="455" y="1993" font-size="40" font-weight="bold" fill="#111" textLength="150" lengthAdjust="spacingAndGlyphs">NVIDIA</text>
</g>
<text x="729" y="1958" font-size="36" fill="#111" textLength="175" lengthAdjust="spacingAndGlyphs"><tspan font-weight="bold">AIR</tspan>SIM</text>
<g>
<polygon points="150,2185 232,2140 232,2245 150,2290" fill="#4a4a44" stroke="#222" stroke-width="1"/>
<polygon points="199,2185 281,2140 281,2245 199,2290" fill="#5a5a50" stroke="#222" stroke-width="1"/>
<polygon points="248,2185 330,2140 330,2245 248,2290" fill="#3c3c36" stroke="#222" stroke-width="1"/>
<polygon points="150,2255 232,2210 232,2245 150,2290" fill="#2a2a2a"/><polygon points="199,2255 281,2210 281,2245 199,2290" fill="#2a2a2a"/><polygon points="248,2255 330,2210 330,2245 248,2290" fill="#2a2a2a"/>
<polygon points="170,2175 200,2158 200,2190 170,2205" fill="#7a9a5a"/><polygon points="219,2175 249,2158 249,2190 219,2205" fill="#7a9a5a"/><polygon points="268,2175 298,2158 298,2190 268,2205" fill="#7a9a5a"/>
<text x="309" y="2275" font-size="40" font-weight="bold">...</text>
<line x1="436" y1="2216" x2="492" y2="2216" stroke="#111" stroke-width="5"/><line x1="464" y1="2189" x2="464" y2="2243" stroke="#111" stroke-width="5"/>
<use href="#semP" x="600" y="2140" width="82" height="150"/>
<use href="#semP" x="651" y="2140" width="82" height="150"/>
<use href="#semP" x="700" y="2140" width="82" height="150"/>
<text x="750" y="2275" font-size="40" font-weight="bold">...</text>
</g>
<text x="91" y="2403" font-size="40" font-weight="bold" textLength="1259" lengthAdjust="spacingAndGlyphs"><tspan fill="#c00000" font-style="italic">SkyEye</tspan> utilizes only data in the FV during training to learn how to</text>
<text x="91" y="2451" font-size="40" font-weight="bold" textLength="567" lengthAdjust="spacingAndGlyphs">generate semantic BEV maps</text>

<!-- MIDDLE COLUMN -->
<text x="1520" y="350" font-size="48" font-weight="bold" textLength="482" lengthAdjust="spacingAndGlyphs">Technical Approach</text>
<g font-size="40">
<text x="1520" y="436" textLength="1286" lengthAdjust="spacingAndGlyphs">We encode spatial and semantic information into the voxel grid using …</text>
<text x="1520" y="486" fill="#c00000">•</text><text x="1520" y="535" fill="#c00000">•</text>
<text x="1550" y="486" textLength="1027" lengthAdjust="spacingAndGlyphs">… <tspan font-weight="bold" font-style="italic">implicit supervision</tspan> during an initial <tspan font-weight="bold" font-style="italic">pretraining</tspan> step</text>
<text x="1550" y="535" textLength="1471" lengthAdjust="spacingAndGlyphs">… and <tspan font-weight="bold" font-style="italic">explicit supervision</tspan> in a subsequent <tspan font-weight="bold" font-style="italic">refinement</tspan> step using pseudolabels</text>
</g>

<line x1="1527" y1="644" x2="1610" y2="644" stroke="#a00000" stroke-width="5" marker-end="url(#mR)"/>
<line x1="1527" y1="700" x2="1610" y2="700" stroke="#2b4c9b" stroke-width="5" marker-end="url(#mB)"/>
<line x1="1527" y1="757" x2="1610" y2="757" stroke="#000" stroke-width="5" marker-end="url(#mK)"/>
<g font-size="26"><text x="1631" y="654" textLength="99" lengthAdjust="spacingAndGlyphs">Inference</text><text x="1631" y="710" textLength="86" lengthAdjust="spacingAndGlyphs">Training</text><text x="1631" y="767" textLength="68" lengthAdjust="spacingAndGlyphs">Offline</text></g>

<rect x="1791" y="658" width="653" height="297" rx="45" fill="none" stroke="#000" stroke-width="3" stroke-dasharray="9,7"/>
<line x1="1812" y1="952" x2="2124" y2="1096" stroke="#000" stroke-width="3" stroke-dasharray="9,7"/>
<line x1="2425" y1="953" x2="2130" y2="1096" stroke="#000" stroke-width="3" stroke-dasharray="9,7"/>
<line x1="1765" y1="894" x2="1818" y2="894" stroke="#a00000" stroke-width="6" stroke-dasharray="14,9"/>
<polyline points="1825,894 1825,730 1855,730" fill="none" stroke="#a00000" stroke-width="5" marker-end="url(#mR)"/>
<line x1="1825" y1="894" x2="2020" y2="894" stroke="#a00000" stroke-width="5" marker-end="url(#mR)"/>
<line x1="1936" y1="730" x2="2020" y2="730" stroke="#a00000" stroke-width="5" marker-end="url(#mR)"/>
<use href="#slabW" x="1862" y="705" width="23" height="66"/>
<use href="#slabW" x="1885" y="681" width="51" height="99"/>
<use href="#slabW" x="2024" y="681" width="52" height="99"/>
<use href="#slabW" x="2026" y="830" width="52" height="100"/>
<polygon points="1958,673 2011,690 2005,718 1952,702" fill="#fff" stroke="#000" stroke-width="2.5"/>
<polygon points="2006,705 2022,695 2022,718" fill="#000"/>
<polygon points="1958,823 2011,840 2005,868 1952,852" fill="#fff" stroke="#000" stroke-width="2.5"/>
<polygon points="2006,855 2022,845 2022,868" fill="#000"/>
<use href="#cubeK" x="2196" y="665" width="134" height="131"/>
<use href="#cubeS" x="2196" y="818" width="134" height="131"/>
<g stroke="#000" stroke-width="1.5" fill="none">
<line x1="2066" y1="707" x2="2195" y2="712" marker-end="url(#mKs)"/><line x1="2066" y1="712" x2="2235" y2="735" marker-end="url(#mKs)"/><line x1="2066" y1="716" x2="2260" y2="765" marker-end="url(#mKs)"/>
<line x1="2068" y1="858" x2="2238" y2="865" marker-end="url(#mKs)"/><line x1="2068" y1="868" x2="2262" y2="910" marker-end="url(#mKs)"/><line x1="2068" y1="875" x2="2196" y2="930" marker-end="url(#mKs)"/>
</g>
<polyline points="2330,730 2406,730 2406,858" fill="none" stroke="#a00000" stroke-width="5" marker-end="url(#mR)"/>
<line x1="2330" y1="883" x2="2382" y2="883" stroke="#a00000" stroke-width="5" marker-end="url(#mR)"/>
<circle cx="2406" cy="883" r="18" fill="#fff" stroke="#000" stroke-width="3"/>
<line x1="2393" y1="870" x2="2419" y2="896" stroke="#000" stroke-width="3"/><line x1="2419" y1="870" x2="2393" y2="896" stroke="#000" stroke-width="3"/>
<line x1="2426" y1="883" x2="2482" y2="883" stroke="#a00000" stroke-width="6" stroke-dasharray="14,9" marker-end="url(#mR)"/>

<rect x="2580" y="595" width="975" height="442" rx="60" fill="none" stroke="#000" stroke-width="3" stroke-dasharray="9,7"/>
<text x="2617" y="628" font-size="31" font-weight="bold" textLength="166" lengthAdjust="spacingAndGlyphs">Pretraining</text>
<rect x="3441" y="630" width="108" height="345" rx="22" fill="#e4e4e4"/>
<g fill="#fff" stroke="#222" stroke-width="2.5"><rect x="3453" y="670" width="86" height="36"/><rect x="3453" y="778" width="86" height="35"/><rect x="3453" y="923" width="86" height="36"/></g>
<g class="m" font-size="30">
<text x="3478" y="657">L<tspan font-size="17" dy="6" font-style="normal">fv</tspan></text>
<text x="3470" y="698">L<tspan font-size="17" dy="6" font-style="normal">fv,n</tspan></text>
<text x="3470" y="806">L<tspan font-size="17" dy="6" font-style="normal">fv,1</tspan></text>
<text x="3470" y="951">L<tspan font-size="17" dy="6" font-style="normal">fv,0</tspan></text>
<text x="3484" y="752">S<tspan font-size="17" dy="6">n</tspan></text>
<text x="3484" y="860">S<tspan font-size="17" dy="6" font-style="normal">1</tspan></text>
<text x="3484" y="1004">S<tspan font-size="17" dy="6" font-style="normal">0</tspan></text>
<text x="2675" y="728">V<tspan font-size="17" dy="6" font-style="normal">0→1</tspan></text>
<text x="2800" y="646">V<tspan font-size="17" dy="6" font-style="normal">0→n</tspan></text>
<text x="2624" y="898">T<tspan font-size="17" dy="6" font-style="normal">0→1</tspan></text>
<text x="2835" y="836">T<tspan font-size="17" dy="6" font-style="normal">0→n</tspan></text>
<text x="3354" y="652">Ŝ<tspan font-size="17" dy="6" font-style="normal">0→n</tspan></text>
<text x="3332" y="742">Ŝ<tspan font-size="17" dy="6" font-style="normal">0→1</tspan></text>
<text x="3302" y="868">Ŝ<tspan font-size="17" dy="6" font-style="normal">0</tspan></text>
</g>
<g stroke="#2b4c9b" stroke-width="2.5"><line x1="3496" y1="730" x2="3496" y2="712" marker-end="url(#mBs)"/><line x1="3496" y1="838" x2="3496" y2="818" marker-end="url(#mBs)"/><line x1="3496" y1="982" x2="3496" y2="964" marker-end="url(#mBs)"/></g>
<use href="#cubeGL" x="2650" y="746" width="100" height="99"/>
<use href="#cubeGL" x="2790" y="658" width="64" height="64" opacity="0.75"/>
<line x1="2934" y1="688" x2="3016" y2="688" stroke="#9fb1d8" stroke-width="3" marker-end="url(#mBl)"/>
<use href="#cubeR" x="3099" y="654" width="67" height="66" opacity="0.45"/>
<line x1="3166" y1="688" x2="3279" y2="688" stroke="#9fb1d8" stroke-width="3" marker-end="url(#mBl)"/>
<use href="#slabW" x="3281" y="664" width="26" height="47" opacity="0.6"/>
<line x1="3307" y1="688" x2="3396" y2="688" stroke="#9fb1d8" stroke-width="3" marker-end="url(#mBl)"/>
<use href="#semP" x="3399" y="650" width="31" height="77" opacity="0.6"/>
<line x1="3430" y1="688" x2="3451" y2="688" stroke="#9fb1d8" stroke-width="3" marker-end="url(#mBl)"/>
<g fill="#000"><circle cx="3270" cy="728" r="2.5"/><circle cx="3273" cy="738" r="2.5"/><circle cx="3267" cy="748" r="2.5"/></g>
<line x1="2858" y1="795" x2="2940" y2="795" stroke="#4a68b8" stroke-width="3" marker-end="url(#mBm)"/>
<use href="#cubeR" x="3029" y="746" width="100" height="99" opacity="0.75"/>
<line x1="3129" y1="795" x2="3227" y2="795" stroke="#4a68b8" stroke-width="3" marker-end="url(#mBm)"/>
<use href="#slabW" x="3230" y="762" width="34" height="65"/>
<line x1="3264" y1="795" x2="3355" y2="795" stroke="#4a68b8" stroke-width="3" marker-end="url(#mBm)"/>
<use href="#semP" x="3358" y="740" width="41" height="110"/>
<line x1="3399" y1="795" x2="3451" y2="795" stroke="#4a68b8" stroke-width="3" marker-end="url(#mBm)"/>
<polyline points="2831,1143 2831,948 2952,948" fill="none" stroke="#2b4c9b" stroke-width="6" marker-end="url(#mB)"/>
<use href="#cubeR" x="2958" y="877" width="135" height="132"/>
<line x1="3093" y1="943" x2="3168" y2="943" stroke="#2b4c9b" stroke-width="6" marker-end="url(#mB)"/>
<use href="#slabW" x="3173" y="893" width="53" height="100"/>
<line x1="3226" y1="943" x2="3284" y2="943" stroke="#2b4c9b" stroke-width="6" marker-end="url(#mB)"/>
<use href="#semP" x="3289" y="862" width="59" height="156"/>
<line x1="3348" y1="940" x2="3451" y2="940" stroke="#2b4c9b" stroke-width="3" marker-end="url(#mBs)"/>
<text x="3147" y="1018" font-size="26" textLength="94" lengthAdjust="spacingAndGlyphs">FV Head</text>
<g fill="#fff" stroke="#333" stroke-width="1.5">
<rect x="2614" y="932" width="16" height="16" transform="rotate(-15 2622 940)"/><rect x="2653" y="932" width="16" height="16" transform="rotate(15 2661 940)"/>
<rect x="2825" y="866" width="16" height="16" transform="rotate(-15 2833 874)"/><rect x="2874" y="866" width="16" height="16" transform="rotate(15 2882 874)"/>
</g>
<path d="M2630,928 Q2642,906 2655,926" fill="none" stroke="#000" stroke-width="2" marker-end="url(#mKs)"/>
<path d="M2841,862 Q2853,840 2866,860" fill="none" stroke="#000" stroke-width="2" marker-end="url(#mKs)"/>
<path d="M2556,1140 C2640,1120 2701,1060 2701,862" fill="none" stroke="#000" stroke-width="2.5" stroke-dasharray="9,7" marker-end="url(#mK)"/>
<path d="M2560,1138 C2720,1110 2790,1000 2822,736" fill="none" stroke="#000" stroke-width="2.5" stroke-dasharray="9,7" marker-end="url(#mK)"/>

<polygon points="1554,1110 1615,1073 1615,1195 1554,1230" fill="url(#imgG)" stroke="#222" stroke-width="1"/>
<text class="m" x="1566" y="1070" font-size="30">I<tspan font-size="17" dy="6" font-style="normal">0</tspan></text>
<line x1="1615" y1="1143" x2="1728" y2="1143" stroke="#a00000" stroke-width="6" marker-end="url(#mR)"/>
<text x="1702" y="1073" font-size="26" textLength="162" lengthAdjust="spacingAndGlyphs">Image Encoder</text>
<use href="#slabT" x="1736" y="1090" width="63" height="126"/>
<use href="#slabT" x="1765" y="1110" width="49" height="99"/>
<use href="#slabT" x="1796" y="1131" width="34" height="66"/>
<line x1="1830" y1="1143" x2="2034" y2="1143" stroke="#a00000" stroke-width="6" marker-end="url(#mR)"/>
<rect x="2038" y="1099" width="179" height="89" rx="18" fill="#fff" stroke="#000" stroke-width="3"/>
<text x="2052" y="1152" font-size="26" textLength="152" lengthAdjust="spacingAndGlyphs">Lifting Module</text>
<line x1="2217" y1="1143" x2="2415" y2="1143" stroke="#a00000" stroke-width="6" marker-end="url(#mR)"/>
<text x="2429" y="1069" font-size="26" textLength="114" lengthAdjust="spacingAndGlyphs">Voxel Grid</text>
<text class="m" x="2550" y="1069" font-size="30">V<tspan font-size="17" dy="6" font-style="normal">0</tspan></text>
<use href="#cubeG" x="2419" y="1079" width="135" height="131"/>
<line x1="2554" y1="1143" x2="2953" y2="1143" stroke="#a00000" stroke-width="6" marker-end="url(#mR)"/>
<use href="#cubeB" x="2958" y="1079" width="134" height="131"/>
<line x1="3092" y1="1143" x2="3166" y2="1143" stroke="#a00000" stroke-width="6" marker-end="url(#mR)"/>
<use href="#slabD" x="3173" y="1094" width="54" height="99"/>
<line x1="3227" y1="1143" x2="3301" y2="1143" stroke="#a00000" stroke-width="6" marker-end="url(#mR)"/>
<text class="m" x="3243" y="1118" font-size="30">B̂<tspan font-size="17" dy="6" font-style="normal">0</tspan></text>
<rect x="3306" y="1126" width="85" height="36" fill="#fff" stroke="#222" stroke-width="2.5"/>
<text class="m" x="3323" y="1153" font-size="30">L<tspan font-size="17" dy="6" font-style="normal">bev</tspan></text>
<text x="3135" y="1223" font-size="26" textLength="111" lengthAdjust="spacingAndGlyphs">BEV Head</text>
<line x1="3348" y1="1319" x2="3348" y2="1168" stroke="#2b4c9b" stroke-width="3" marker-end="url(#mBs)"/>

<rect x="1527" y="1253" width="2032" height="245" rx="40" fill="none" stroke="#000" stroke-width="3" stroke-dasharray="9,7"/>
<text x="1563" y="1282" font-size="31" font-weight="bold" textLength="361" lengthAdjust="spacingAndGlyphs">Pseudolabel Generation</text>
<polygon points="1541,1340 1595,1300 1595,1410 1541,1455" fill="url(#imgG)" stroke="#222"/>
<polygon points="1556,1336 1610,1296 1610,1406 1556,1450" fill="url(#imgG)" stroke="#222"/>
<polygon points="1572,1332 1626,1292 1626,1402 1572,1446" fill="url(#imgG)" stroke="#222"/>
<line x1="1628" y1="1367" x2="1732" y2="1367" stroke="#000" stroke-width="4" marker-end="url(#mK)"/>
<use href="#slabT" x="1736" y="1303" width="64" height="133"/>
<use href="#slabT" x="1765" y="1317" width="51" height="112"/>
<use href="#slabT" x="1796" y="1330" width="37" height="83"/>
<use href="#slabT" x="1837" y="1326" width="47" height="99"/>
<use href="#slabT" x="1870" y="1303" width="68" height="133"/>
<line x1="1938" y1="1367" x2="2176" y2="1367" stroke="#000" stroke-width="4" marker-end="url(#mK)"/>
<polygon points="2180,1330 2225,1289 2225,1410 2180,1448" fill="url(#magma)"/>
<polygon points="2195,1330 2240,1289 2240,1410 2195,1448" fill="url(#magma)"/>
<polygon points="2210,1330 2255,1289 2255,1410 2210,1448" fill="url(#magma)"/>
<use href="#semP" x="2452" y="1289" width="45" height="159"/>
<use href="#semP" x="2470" y="1289" width="45" height="159"/>
<use href="#semP" x="2490" y="1289" width="45" height="159"/>
<use href="#cubeW" x="2586" y="1298" width="135" height="134"/>
<g stroke="#000" stroke-width="2" fill="none">
<line x1="2245" y1="1346" x2="2634" y2="1345" marker-end="url(#mKs)"/>
<line x1="2245" y1="1363" x2="2617" y2="1367" marker-end="url(#mKs)"/>
<line x1="2245" y1="1375" x2="2667" y2="1379" marker-end="url(#mKs)"/>
<line x1="2245" y1="1392" x2="2644" y2="1414" marker-end="url(#mKs)"/>
</g>
<g>
<circle cx="2624" cy="1320" r="7" fill="#a0522d"/><circle cx="2675" cy="1320" r="7" fill="#00a000"/><circle cx="2641" cy="1345" r="7" fill="#00a000"/><circle cx="2707" cy="1342" r="7" fill="#a0522d"/><circle cx="2624" cy="1367" r="7" fill="#ff00ff"/><circle cx="2698" cy="1367" r="7" fill="#0000cc"/><circle cx="2674" cy="1379" r="7" fill="#9988bb"/><circle cx="2705" cy="1388" r="7" fill="#ff00ff"/><circle cx="2620" cy="1394" r="7" fill="#a0522d"/><circle cx="2667" cy="1394" r="7" fill="#00a000"/><circle cx="2651" cy="1415" r="7" fill="#0000cc"/>
</g>
<polyline points="2721,1367 2830,1367" fill="none" stroke="#000" stroke-width="4"/>
<polyline points="2830,1425 2830,1307 2920,1307" fill="none" stroke="#000" stroke-width="4" marker-end="url(#mK)"/>
<line x1="2830" y1="1425" x2="2920" y2="1425" stroke="#000" stroke-width="4" marker-end="url(#mK)"/>
<rect x="2924" y="1262" width="182" height="89" rx="18" fill="#fff" stroke="#000" stroke-width="3"/>
<rect x="2924" y="1381" width="182" height="90" rx="18" fill="#fff" stroke="#000" stroke-width="3"/>
<g font-size="25" text-anchor="middle">
<text x="3015" y="1296" font-weight="bold" font-style="italic">"Stuff"</text>
<text x="3015" y="1328">Densification</text>
<text x="3015" y="1404" font-weight="bold" font-style="italic">"Thing"</text>
<text x="3015" y="1433">Bounding Box</text>
<text x="3015" y="1460">Fitting</text>
</g>
<polyline points="3106,1307 3136,1307 3136,1425 3106,1425" fill="none" stroke="#000" stroke-width="3"/>
<line x1="3136" y1="1367" x2="3174" y2="1367" stroke="#000" stroke-width="3" marker-end="url(#mK)"/>
<circle cx="3196" cy="1367" r="18" fill="#fff" stroke="#000" stroke-width="3"/>
<line x1="3178" y1="1367" x2="3214" y2="1367" stroke="#000" stroke-width="3"/><line x1="3196" y1="1349" x2="3196" y2="1385" stroke="#000" stroke-width="3"/>
<line x1="3214" y1="1367" x2="3283" y2="1367" stroke="#000" stroke-width="3" marker-end="url(#mK)"/>
<g class="m" font-size="30">
<text x="3146" y="1305">B̂<tspan font-size="17" dy="-12" font-style="normal">s</tspan></text>
<text x="3146" y="1440">B̂<tspan font-size="17" dy="-12" font-style="normal">d</tspan></text>
<text x="3330" y="1457">B̂<tspan font-size="17" dy="-12" font-style="normal">pl</tspan></text>
<text x="1541" y="1477">I<tspan font-size="17" dy="6" font-style="normal">0</tspan><tspan dy="-6">…I</tspan><tspan font-size="17" dy="6">n</tspan></text>
<text x="2176" y="1477">D̂<tspan font-size="17" dy="6" font-style="normal">0</tspan><tspan dy="-6">…D̂</tspan><tspan font-size="17" dy="6">n</tspan></text>
<text x="2452" y="1477">S<tspan font-size="17" dy="6" font-style="normal">0</tspan><tspan dy="-6">…S</tspan><tspan font-size="17" dy="6">n</tspan></text>
</g>
<text x="1756" y="1477" font-size="26" textLength="161" lengthAdjust="spacingAndGlyphs">Depth Network</text>
<rect x="3287" y="1319" width="122" height="99" fill="#fff" stroke="#333" stroke-width="2"/>
<polygon points="3300,1390 3392,1330 3405,1345 3310,1405" fill="#8c468c"/>
<polygon points="3300,1380 3360,1345 3365,1360 3305,1400" fill="#ff33ff"/>
<rect x="3330" y="1352" width="8" height="12" fill="#1030b0"/><circle cx="3320" cy="1402" r="6" fill="#90ee90"/>

<g fill="none" stroke="#000" stroke-width="3">
<path d="M2573,1512 V1533 H2745 V1512 M2659,1533 V1556"/>
<path d="M2927,1512 V1533 H3102 V1512 M3014,1533 V1556"/>
</g>
<rect x="2565" y="1576" width="194" height="131" fill="#fff" stroke="#444" stroke-width="2"/>
<polygon points="2580,1680 2750,1600 2755,1625 2585,1700" fill="#8c468c"/>
<polygon points="2575,1668 2660,1630 2690,1640 2600,1690 2580,1700" fill="#ff33ff"/>
<rect x="2620" y="1640" width="10" height="14" fill="#1a1a90"/><circle cx="2640" cy="1680" r="7" fill="#90ee90"/>
<rect x="2916" y="1576" width="193" height="131" fill="#fff" stroke="#444" stroke-width="2"/>
<polygon points="2925,1690 3105,1600 3108,1630 2930,1705" fill="#8c468c"/>
<polygon points="2920,1675 3000,1630 3030,1640 2940,1695 2925,1700" fill="#ff33ff"/>
<circle cx="2990" cy="1680" r="7" fill="#90ee90"/>
<rect x="3064" y="1633" width="193" height="130" fill="#fff" stroke="#444" stroke-width="2"/>
<g fill="#1a1a90"><rect x="3090" y="1735" width="10" height="12" transform="rotate(40 3095 1741)"/><rect x="3115" y="1715" width="10" height="12" transform="rotate(40 3120 1721)"/><rect x="3140" y="1730" width="10" height="12" transform="rotate(40 3145 1736)"/><rect x="3165" y="1690" width="10" height="12" transform="rotate(40 3170 1696)"/></g>

<text x="1520" y="1789" font-size="48" font-weight="bold" textLength="514" lengthAdjust="spacingAndGlyphs">Experimental Results</text>
<text x="1520" y="1852" font-size="40" textLength="1021" lengthAdjust="spacingAndGlyphs">Comparison of <tspan font-style="italic">SkyEye</tspan> with baselines on KITTI-360-BEV</text>
<rect x="1527" y="1882" width="2015" height="5" fill="#000"/>
<rect x="1527" y="1958" width="2015" height="4" fill="#000"/>
<rect x="1527" y="2265" width="2015" height="3" fill="#000"/>
<rect x="1527" y="2339" width="2015" height="5" fill="#000"/>
<g stroke="#000" stroke-width="2">
<line x1="1814" y1="1903" x2="1814" y2="1949"/><line x1="2014" y1="1903" x2="2014" y2="1949"/><line x1="3398" y1="1903" x2="3398" y2="1949"/>
<line x1="1814" y1="1978" x2="1814" y2="2255"/><line x1="2014" y1="1978" x2="2014" y2="2255"/><line x1="3398" y1="1978" x2="3398" y2="2255"/>
<line x1="1814" y1="2283" x2="1814" y2="2330"/><line x1="2014" y1="2283" x2="2014" y2="2330"/><line x1="3398" y1="2283" x2="3398" y2="2330"/>
</g>
<g class="s" font-size="40" text-anchor="middle">
<g font-weight="bold"><text x="1547" y="1933" text-anchor="start">Method</text><text x="1913" y="1933">BEV GT</text><text x="2083" y="1933">Road</text><text x="2251" y="1933">Sidewalk</text><text x="2450" y="1933">Building</text><text x="2635" y="1933">Terrain</text><text x="2804" y="1933">Person</text><text x="3000" y="1933">2-Wheeler</text><text x="3180" y="1933">Car</text><text x="3322" y="1933">Truck</text><text x="3470" y="1933">mIoU</text></g>
<g>
<text x="1547" y="2008" text-anchor="start">IPM [<tspan fill="#22c322">25</tspan>]</text><text class="ck" x="1913" y="2005" font-size="34">✗</text><text x="2083" y="2008">53.03</text><text x="2251" y="2008">24.90</text><text x="2450" y="2008">15.19</text><text x="2635" y="2008">32.31</text><text x="2804" y="2008">0.20</text><text x="3000" y="2008">0.36</text><text x="3180" y="2008">11.59</text><text x="3322" y="2008">1.90</text><text x="3470" y="2008">17.44</text>
</g>
<g>
<text x="1547" y="2055" text-anchor="start">TIIM [<tspan fill="#22c322">33</tspan>]</text><text class="ck" x="1913" y="2052" font-size="34">✓</text><text x="2083" y="2055">63.08</text><text x="2251" y="2055">28.66</text><text x="2450" y="2055">13.70</text><text x="2635" y="2055">25.94</text><text x="2804" y="2055">0.56</text><text x="3000" y="2055" font-weight="bold">6.45</text><text x="3180" y="2055">33.31</text><text x="3322" y="2055">8.52</text><text x="3470" y="2055">22.53</text>
</g>
<g>
<text x="1547" y="2102" text-anchor="start">VED [<tspan fill="#22c322">24</tspan>]</text><text class="ck" x="1913" y="2099" font-size="34">✓</text><text x="2083" y="2102">65.97</text><text x="2251" y="2102">35.41</text><text x="2450" y="2102">37.28</text><text x="2635" y="2102">34.34</text><text x="2804" y="2102">0.13</text><text x="3000" y="2102">0.07</text><text x="3180" y="2102">23.83</text><text x="3322" y="2102">8.89</text><text x="3470" y="2102">25.74</text>
</g>
<g>
<text x="1547" y="2148" text-anchor="start">VPN [<tspan fill="#22c322">30</tspan>]</text><text class="ck" x="1913" y="2145" font-size="34">✓</text><text x="2083" y="2148">69.90</text><text x="2251" y="2148">34.31</text><text x="2450" y="2148">33.65</text><text x="2635" y="2148">40.17</text><text x="2804" y="2148">0.56</text><text x="3000" y="2148">2.26</text><text x="3180" y="2148">27.76</text><text x="3322" y="2148">6.10</text><text x="3470" y="2148">26.84</text>
</g>
<g>
<text x="1547" y="2193" text-anchor="start">PON [<tspan fill="#22c322">32</tspan>]</text><text class="ck" x="1913" y="2190" font-size="34">✓</text><text x="2083" y="2193">67.98</text><text x="2251" y="2193">31.13</text><text x="2450" y="2193">29.81</text><text x="2635" y="2193">34.28</text><text x="2804" y="2193">2.28</text><text x="3000" y="2193">2.16</text><text x="3180" y="2193">37.99</text><text x="3322" y="2193">8.10</text><text x="3470" y="2193">26.72</text>
</g>
<g>
<text x="1547" y="2239" text-anchor="start">PoBEV [<tspan fill="#22c322">6</tspan>]</text><text class="ck" x="1913" y="2236" font-size="34">✓</text><text x="2083" y="2239">70.14</text><text x="2251" y="2239">35.23</text><text x="2450" y="2239">34.68</text><text x="2635" y="2239">40.72</text><text x="2804" y="2239">2.85</text><text x="3000" y="2239">5.63</text><text x="3180" y="2239" font-weight="bold">39.77</text><text x="3322" y="2239" font-weight="bold">14.38</text><text x="3470" y="2239">30.42</text>
</g>
<g>
<text x="1547" y="2313" text-anchor="start">SkyEye (Ours)</text><text class="ck" x="1913" y="2310" font-size="34">✗</text><text x="2083" y="2313" font-weight="bold">71.39</text><text x="2251" y="2313" font-weight="bold">37.62</text><text x="2450" y="2313" font-weight="bold">37.48</text><text x="2635" y="2313" font-weight="bold">44.38</text><text x="2804" y="2313" font-weight="bold">4.73</text><text x="3000" y="2313">4.72</text><text x="3180" y="2313">32.73</text><text x="3322" y="2313">10.84</text><text x="3470" y="2313" font-weight="bold">30.49</text>
</g>
</g>
<text x="1520" y="2401" font-size="40" font-weight="bold" textLength="1938" lengthAdjust="spacingAndGlyphs"><tspan fill="#c00000" font-style="italic">SkyEye</tspan> performs on par with the SoTA fully-supervised approach PoBEV without seeing any ground</text>
<text x="1520" y="2450" font-size="40" font-weight="bold" textLength="401" lengthAdjust="spacingAndGlyphs">truth data in the BEV</text>

<!-- RIGHT COLUMN -->
<text x="3644" y="350" font-size="48" font-weight="bold" textLength="514" lengthAdjust="spacingAndGlyphs">Experimental Results</text>
<g font-size="40">
<text x="3646" y="437" fill="#c00000">•</text><text x="4398" y="437" fill="#c00000">•</text>
<text x="3673" y="437" textLength="473" lengthAdjust="spacingAndGlyphs">Generalization experiment</text>
<text x="3673" y="485" textLength="178" lengthAdjust="spacingAndGlyphs">KITTI-360</text>
<text x="3954" y="485" textLength="218" lengthAdjust="spacingAndGlyphs">Waymo-360</text>
<text x="4424" y="437" textLength="576" lengthAdjust="spacingAndGlyphs">Impact of model pretraining with</text>
<text x="4424" y="485" textLength="605" lengthAdjust="spacingAndGlyphs">different splits of BEV supervision</text>
</g>
<line x1="3873" y1="470" x2="3932" y2="470" stroke="#000" stroke-width="4" marker-end="url(#mKs)"/>

<g stroke="#d9d9d9" stroke-width="2"><line x1="3754" y1="554" x2="4312" y2="554"/><line x1="3754" y1="623" x2="4312" y2="623"/><line x1="3754" y1="692" x2="4312" y2="692"/><line x1="3754" y1="761" x2="4312" y2="761"/><line x1="3754" y1="830" x2="4312" y2="830"/></g>
<line x1="3754" y1="899" x2="4312" y2="899" stroke="#888" stroke-width="2"/>
<g font-size="28" text-anchor="end"><text x="3742" y="564">25</text><text x="3742" y="633">20</text><text x="3742" y="702">15</text><text x="3742" y="771">10</text><text x="3742" y="840">5</text><text x="3742" y="909">0</text></g>
<text transform="translate(3702,743) rotate(-90)" font-size="28" text-anchor="middle">mIoU</text>
<g fill="#336699"><rect x="3785" y="671" width="57" height="228"/><rect x="3873" y="705" width="57" height="194"/><rect x="3961" y="712" width="57" height="187"/><rect x="4049" y="733" width="57" height="166"/><rect x="4136" y="665" width="57" height="234"/></g>
<rect x="4226" y="587" width="57" height="312" fill="#990000"/>
<g font-size="24" text-anchor="middle" fill="#4a6fa5"><text x="3813" y="648">16.53</text><text x="3901" y="682">14.02</text><text x="3989" y="690">13.52</text><text x="4077" y="710">12.05</text><text x="4164" y="642">16.94</text></g>
<text x="4254" y="565" font-size="24" text-anchor="middle" fill="#b01010">22.57</text>
<g font-size="28" text-anchor="middle"><text x="3813" y="937">TIIM</text><text x="3901" y="937">VED</text><text x="3989" y="937">VPN</text><text x="4077" y="937">PON</text><text x="4164" y="937">PoBEV</text><text x="4254" y="937">Ours</text></g>

<g font-size="22"><text x="4449" y="598" textLength="214" lengthAdjust="spacingAndGlyphs"><tspan fill="#a00000">●</tspan> SkyEye (with implicit)</text><text x="4678" y="598" textLength="252" lengthAdjust="spacingAndGlyphs"><tspan fill="#a00000">★</tspan> SkyEye* (without implicit)</text><text x="4944" y="598" textLength="83" lengthAdjust="spacingAndGlyphs"><tspan fill="#3a6aa8">▲</tspan> PoBEV</text></g>
<g stroke="#d9d9d9" stroke-width="2"><line x1="4434" y1="631" x2="5044" y2="631"/><line x1="4434" y1="684" x2="5044" y2="684"/><line x1="4434" y1="738" x2="5044" y2="738"/><line x1="4434" y1="792" x2="5044" y2="792"/><line x1="4434" y1="846" x2="5044" y2="846"/></g>
<line x1="4434" y1="595" x2="4434" y2="900" stroke="#666" stroke-width="2"/>
<line x1="4434" y1="900" x2="5044" y2="900" stroke="#666" stroke-width="2"/>
<g stroke="#666" stroke-width="2"><line x1="4495" y1="900" x2="4495" y2="912"/><line x1="4617" y1="900" x2="4617" y2="912"/><line x1="4739" y1="900" x2="4739" y2="912"/><line x1="4861" y1="900" x2="4861" y2="912"/><line x1="4983" y1="900" x2="4983" y2="912"/></g>
<g font-size="28" text-anchor="end"><text x="4422" y="641">35</text><text x="4422" y="694">30</text><text x="4422" y="748">25</text><text x="4422" y="802">20</text><text x="4422" y="856">15</text><text x="4422" y="910">10</text></g>
<g font-size="28" text-anchor="middle"><text x="4495" y="947">0.1%</text><text x="4617" y="947">1%</text><text x="4739" y="947">10%</text><text x="4861" y="947">50%</text><text x="4983" y="947">100%</text></g>
<text x="4731" y="988" font-size="28" text-anchor="middle">BEV Supervision</text>
<text transform="translate(4376,779) rotate(-90)" font-size="28" text-anchor="middle">mIoU</text>
<polyline points="4495,866 4617,797 4739,707 4861,681 4983,681" fill="none" stroke="#3a6aa8" stroke-width="2.5"/>
<polyline points="4495,844 4617,782 4739,702 4861,689 4983,683" fill="none" stroke="#a00000" stroke-width="2.5" stroke-dasharray="8,5"/>
<polyline points="4495,763 4617,705 4739,686 4861,678 4983,679" fill="none" stroke="#a00000" stroke-width="5"/>
<g fill="#a00000"><circle cx="4495" cy="763" r="7"/><circle cx="4617" cy="705" r="7"/><circle cx="4739" cy="686" r="7"/><circle cx="4861" cy="678" r="7"/><circle cx="4983" cy="679" r="7"/></g>
<g fill="#3a6aa8"><polygon points="4495,859 4502,871 4488,871"/><polygon points="4617,790 4624,802 4610,802"/><polygon points="4739,700 4746,712 4732,712"/><polygon points="4861,674 4868,686 4854,686"/><polygon points="4983,674 4990,686 4976,686"/></g>
<g fill="#a00000" font-size="16" text-anchor="middle"><text x="4495" y="850">★</text><text x="4617" y="788">★</text><text x="4739" y="708">★</text><text x="4861" y="695">★</text><text x="4983" y="689">★</text></g>

<g font-size="40" font-weight="bold">
<text x="3646" y="1058" fill="#c00000" font-weight="normal">•</text><text x="4398" y="1058" fill="#c00000" font-weight="normal">•</text>
<text x="3673" y="1058" textLength="502" lengthAdjust="spacingAndGlyphs"><tspan fill="#c00000" font-style="italic">SkyEye</tspan> outperforms fully-</text>
<text x="3673" y="1108" textLength="514" lengthAdjust="spacingAndGlyphs">supervised baselines w.r.t.</text>
<text x="3673" y="1156" textLength="502" lengthAdjust="spacingAndGlyphs">generalization capabilities</text>
<text x="4424" y="1058" textLength="563" lengthAdjust="spacingAndGlyphs"><tspan fill="#c00000" font-style="italic">SkyEye</tspan> achieves competitive</text>
<text x="4424" y="1108" textLength="553" lengthAdjust="spacingAndGlyphs">performance with only 1% of</text>
<text x="4424" y="1156" textLength="322" lengthAdjust="spacingAndGlyphs">BEV supervision</text>
</g>

<text x="3646" y="1261" font-size="40" fill="#c00000">•</text>
<text x="3673" y="1261" font-size="40" textLength="1174" lengthAdjust="spacingAndGlyphs">Qualitative comparison of <tspan fill="#c00000" font-style="italic">SkyEye</tspan> with <tspan font-style="italic">PoBEV</tspan> on KITTI-360-BEV</text>
<g font-size="35">
<text x="3772" y="1344" textLength="239" lengthAdjust="spacingAndGlyphs">Input FV Image</text>
<text x="4278" y="1344" font-style="italic" textLength="114" lengthAdjust="spacingAndGlyphs">PoBEV</text>
<text x="4500" y="1344" font-style="italic" fill="#c00000" textLength="229" lengthAdjust="spacingAndGlyphs">SkyEye (Ours)</text>
<text x="4766" y="1344" textLength="290" lengthAdjust="spacingAndGlyphs">Improvement/Error</text>
</g>
<use href="#photoA" x="3647" y="1382" width="548" height="255"/>
<use href="#bev1" x="4203" y="1382" width="275" height="255"/>
<use href="#bev1" x="4486" y="1382" width="275" height="255"/>
<use href="#imp1" x="4769" y="1382" width="275" height="255"/>
<use href="#photoB" x="3647" y="1648" width="548" height="255"/>
<use href="#bev2" x="4203" y="1648" width="275" height="255"/>
<use href="#bev2" x="4486" y="1648" width="275" height="255"/>
<use href="#imp2" x="4769" y="1648" width="275" height="255"/>
<use href="#photoC" x="3647" y="1912" width="548" height="255"/>
<use href="#bev3" x="4203" y="1912" width="275" height="255"/>
<use href="#bev3" x="4486" y="1912" width="275" height="255"/>
<use href="#imp3" x="4769" y="1912" width="275" height="255"/>
<use href="#photoD" x="3647" y="2177" width="548" height="255"/>
<use href="#bev4" x="4203" y="2177" width="275" height="255"/>
<use href="#bev4" x="4486" y="2177" width="275" height="255"/>
<use href="#imp4" x="4769" y="2177" width="275" height="255"/>
<g fill="none" stroke="#555" stroke-width="2">
<rect x="3647" y="1382" width="548" height="255"/><rect x="4203" y="1382" width="275" height="255"/><rect x="4486" y="1382" width="275" height="255"/><rect x="4769" y="1382" width="275" height="255"/>
<rect x="3647" y="1648" width="548" height="255"/><rect x="4203" y="1648" width="275" height="255"/><rect x="4486" y="1648" width="275" height="255"/><rect x="4769" y="1648" width="275" height="255"/>
<rect x="3647" y="1912" width="548" height="255"/><rect x="4203" y="1912" width="275" height="255"/><rect x="4486" y="1912" width="275" height="255"/><rect x="4769" y="1912" width="275" height="255"/>
<rect x="3647" y="2177" width="548" height="255"/><rect x="4203" y="2177" width="275" height="255"/><rect x="4486" y="2177" width="275" height="255"/><rect x="4769" y="2177" width="275" height="255"/>
</g>
</svg>
</body></html>
